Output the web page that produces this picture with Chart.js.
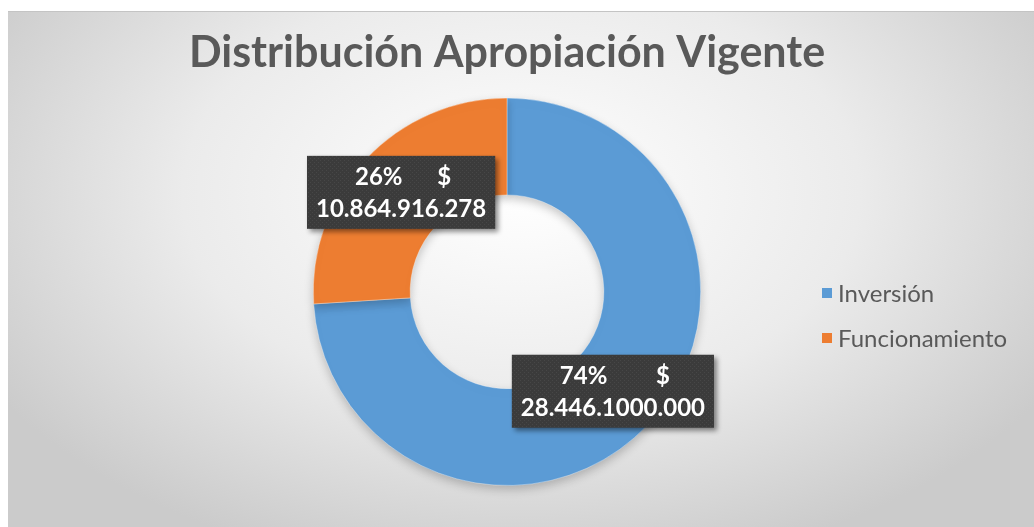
<!DOCTYPE html>
<html>
<head>
<meta charset="utf-8">
<script src="https://cdn.jsdelivr.net/npm/chart.js@4.4.1/dist/chart.umd.min.js"></script>
<style>
  body { margin: 0; background: #ffffff; }
  #frame {
    position: absolute; left: 8px; top: 11px; width: 1026px; height: 516px;
    background: radial-gradient(ellipse 60% 75% at 50% 35%, #ffffff 0%, #ebebeb 55%, #cbcbcb 100%);
    border-top: 1px solid #c4c4c4;
  }
</style>
</head>
<body>
<div id="frame"><canvas id="donut" width="1026" height="516"></canvas></div>
<script>
// === Chart data === //
const chartTitle = 'Distribución Apropiación Vigente'
const categories = ['Inversión', 'Funcionamiento']
const shares = [74, 26]
const amounts = ['28.446.1000.000', '10.864.916.278']
const sliceColors = ['#5b9bd5', '#ed7d31']

const textColor = '#595959'

// small dotted fill for the data label boxes
function makeLabelPattern(ctx) {
  const tile = document.createElement('canvas')
  tile.width = 4
  tile.height = 4
  const t = tile.getContext('2d')
  t.fillStyle = '#3b3b3b'
  t.fillRect(0, 0, 4, 4)
  t.fillStyle = '#474747'
  t.fillRect(0, 0, 1, 1)
  t.fillRect(2, 2, 1, 1)
  return ctx.createPattern(tile, 'repeat')
}

const calloutLabels = {
  id: 'calloutLabels',
  beforeDatasetsDraw(chart) {
    const ctx = chart.ctx
    ctx.save()
    ctx.shadowColor = 'rgba(0,0,0,0.22)'
    ctx.shadowBlur = 10
    ctx.shadowOffsetY = 4
  },
  afterDatasetsDraw(chart) {
    const ctx = chart.ctx
    ctx.restore()
    const meta = chart.getDatasetMeta(0)
    const pattern = makeLabelPattern(ctx)
    ctx.save()
    ctx.font = 'bold 24px Lato'
    meta.data.forEach((arc, i) => {
      const pos = arc.tooltipPosition()
      const line2 = amounts[i]
      const w = ctx.measureText(line2).width + 18
      const h = 73
      const left = pos.x - w / 2
      const top = pos.y - h / 2

      ctx.save()
      ctx.shadowColor = 'rgba(0,0,0,0.45)'
      ctx.shadowBlur = 5
      ctx.shadowOffsetX = 3
      ctx.shadowOffsetY = 3
      ctx.fillStyle = pattern
      ctx.fillRect(left, top, w, h)
      ctx.restore()

      ctx.fillStyle = '#ffffff'
      ctx.textBaseline = 'alphabetic'
      ctx.textAlign = 'left'
      ctx.fillText(shares[i] + '%', left + 48, top + 29)
      ctx.textAlign = 'right'
      ctx.fillText('$', left + w - 44, top + 29)
      ctx.textAlign = 'center'
      ctx.fillText(line2, pos.x, top + 61)
    })
    ctx.restore()
  }
}

const sideLegend = {
  id: 'sideLegend',
  afterDraw(chart, args, opts) {
    const ctx = chart.ctx
    ctx.save()
    ctx.font = opts.font
    ctx.textBaseline = 'middle'
    ctx.textAlign = 'left'
    chart.data.labels.forEach((label, i) => {
      const y = opts.y + i * opts.gap
      ctx.fillStyle = chart.data.datasets[0].backgroundColor[i]
      ctx.fillRect(opts.x, y - 5, 10, 10)
      ctx.fillStyle = textColor
      ctx.fillText(label, opts.x + 16, y + 1)
    })
    ctx.restore()
  }
}

const config = {
  type: 'doughnut',
  data: {
    labels: categories,
    datasets: [{
      data: shares,
      backgroundColor: sliceColors,
      borderColor: 'rgba(255,255,255,0.35)',
      borderWidth: 1
    }]
  },
  options: {
    responsive: false,
    animation: false,
    cutout: '50%',
    layout: { padding: { top: 0, bottom: 42, left: 100, right: 128 } },
    plugins: {
      legend: { display: false },
      tooltip: { enabled: false },
      title: {
        display: true,
        text: chartTitle,
        color: textColor,
        font: { family: 'Lato', size: 43, weight: 'bold', lineHeight: 1.2 },
        padding: { top: 15, bottom: 19 }
      },
      sideLegend: { x: 814, y: 281, gap: 45, font: '24px Lato' }
    }
  },
  plugins: [calloutLabels, sideLegend]
}

new Chart(document.getElementById('donut'), config)
</script>
</body>
</html>
